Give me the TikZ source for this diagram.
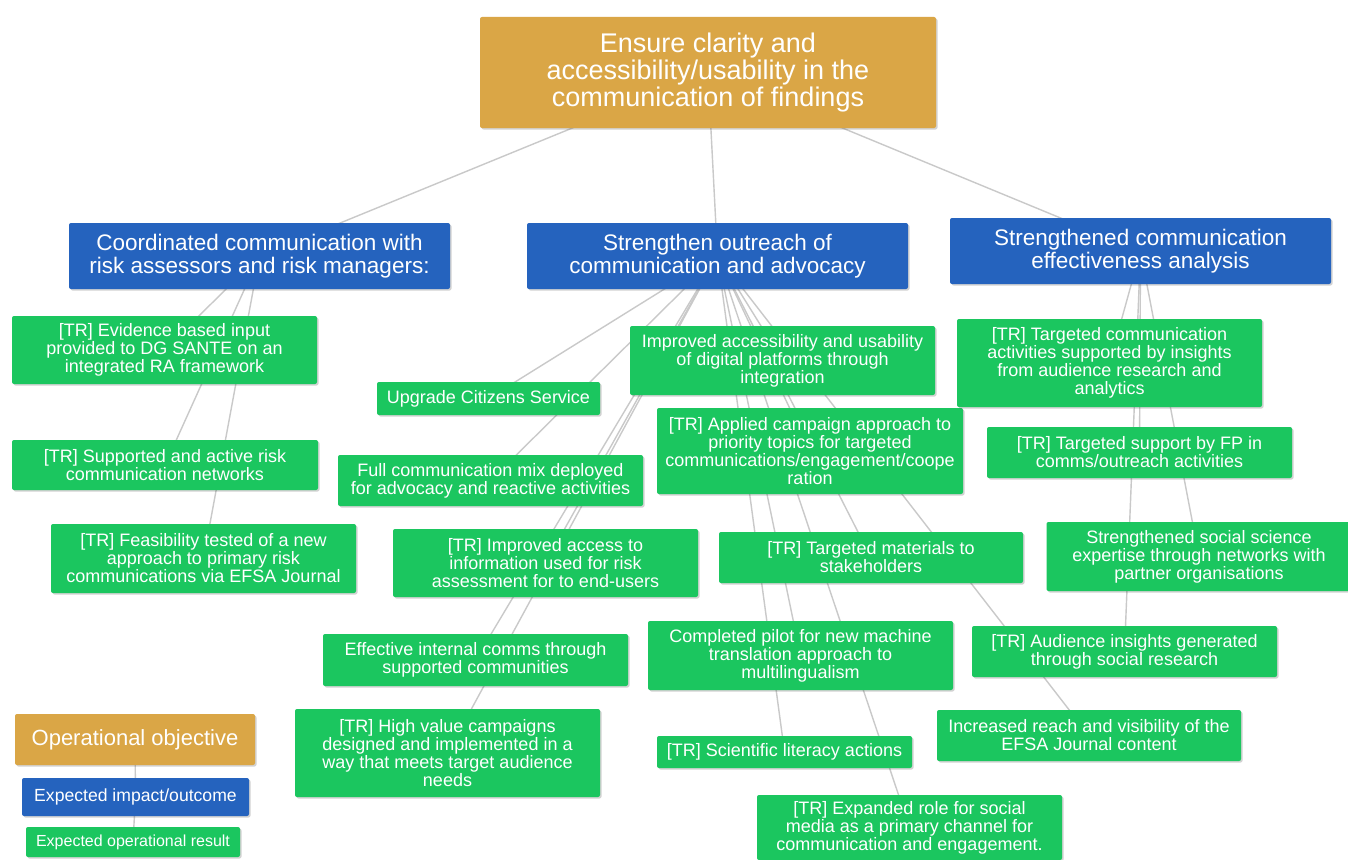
\documentclass[tikz,border=0pt]{standalone}
\usepackage{fontspec}
\setmainfont{Liberation Sans}
\usetikzlibrary{shadows,backgrounds}

\definecolor{objgold}{HTML}{DAA646}
\definecolor{impblue}{HTML}{2563BE}
\definecolor{resgreen}{HTML}{1BC65F}
\definecolor{linkgray}{HTML}{C9C9C9}

\tikzset{
  box/.style={rounded corners=2pt, text=white, align=center, inner sep=0pt,
    drop shadow={shadow xshift=1.5pt, shadow yshift=-1.5pt, opacity=0.25, fill=black!70}},
  sz/.style 2 args={minimum width=#1pt, minimum height=#2pt},
  objbox/.style={box, fill=objgold, font=\fontsize{27}{27}\selectfont},
  impbox/.style={box, fill=impblue, font=\fontsize{22.5}{23}\selectfont},
  resbox/.style={box, fill=resgreen, font=\fontsize{18}{18}\selectfont},
  link/.style={draw=linkgray, line width=1.4pt},
}

\begin{document}
\begin{tikzpicture}[x=1pt, y=-1pt]
\useasboundingbox (0,0) rectangle (1348,859);

% objective
\node[objbox, sz={456}{111}] (top) at (708,72.5)
  {Ensure clarity and\\accessibility/usability in the\\communication of findings};

% expected impacts
\node[impbox, sz={381}{66}] (b1) at (259.5,256)
  {Coordinated communication with\\risk assessors and risk managers:};
\node[impbox, sz={381}{66}] (b2) at (717.5,256)
  {Strengthen outreach of\\communication and advocacy};
\node[impbox, sz={381}{66}] (b3) at (1140.5,251)
  {Strengthened communication\\effectiveness analysis};

% results under b1
\node[resbox, sz={305}{68}] (g1) at (164.5,350)
  {[TR] Evidence based input\\provided to DG SANTE on an\\integrated RA framework};
\node[resbox, sz={306}{50}] (g2) at (165,465)
  {[TR] Supported and active risk\\communication networks};
\node[resbox, sz={305}{69}] (g3) at (203.5,558.5)
  {[TR] Feasibility tested of a new\\approach to primary risk\\communications via EFSA Journal};

% results under b2
\node[resbox, sz={223}{33}] (c1) at (488.5,398.5) {Upgrade Citizens Service};
\node[resbox, sz={305}{51}] (c2) at (490.5,480.5)
  {Full communication mix deployed\\for advocacy and reactive activities};
\node[resbox, sz={305}{69}] (c3) at (782.5,360.5)
  {Improved accessibility and usability\\of digital platforms through\\integration};
\node[resbox, sz={306}{86}] (c4) at (810,451)
  {[TR] Applied campaign approach to\\priority topics for targeted\\communications/engagement/coope\\ration};
\node[resbox, sz={305}{68}] (c5) at (545.5,563)
  {[TR] Improved access to\\information used for risk\\assessment for to end-users};
\node[resbox, sz={304}{51}] (c6) at (871,557.5)
  {[TR] Targeted materials to\\stakeholders};
\node[resbox, sz={305}{52}] (c7) at (475.5,660)
  {Effective internal comms through\\supported communities};
\node[resbox, sz={305}{69}] (c8) at (800.5,655.5)
  {Completed pilot for new machine\\translation approach to\\multilingualism};
\node[resbox, sz={305}{88}] (c9) at (447.5,753)
  {[TR] High value campaigns\\designed and implemented in a\\way that meets target audience\\needs};
\node[resbox, sz={255}{32}] (c10) at (784.5,752) {[TR] Scientific literacy actions};
\node[resbox, sz={305}{65}] (c11) at (909.5,827.5)
  {[TR] Expanded role for social\\media as a primary channel for\\communication and engagement.};
\node[resbox, sz={304}{51}] (c12) at (1089,735.5)
  {Increased reach and visibility of the\\EFSA Journal content};

% results under b3
\node[resbox, sz={305}{88}] (d1) at (1109.5,363)
  {[TR] Targeted communication\\activities supported by insights\\from audience research and\\analytics};
\node[resbox, sz={305}{51}] (d2) at (1139.5,452.5)
  {[TR] Targeted support by FP in\\comms/outreach activities};
\node[resbox, sz={305}{69}] (d3) at (1199,556.5)
  {Strengthened social science\\expertise through networks with\\partner organisations};
\node[resbox, sz={305}{51}] (d4) at (1124.5,651.5)
  {[TR] Audience insights generated\\through social research};

% legend
\node[box, fill=objgold, sz={240}{51}, font=\fontsize{22}{23}\selectfont] (lo) at (135,739.5)
  {Operational objective};
\node[box, fill=impblue, sz={227}{38}, font=\fontsize{17.6}{18}\selectfont] (li) at (135.5,797)
  {Expected impact/outcome};
\node[box, fill=resgreen, sz={214}{30}, font=\fontsize{16}{16}\selectfont] (lr) at (133,842)
  {Expected operational result};

% connectors, centre to centre beneath the boxes
\begin{scope}[on background layer]
  \fill[white] (0,0) rectangle (1348,859);
  \foreach \a/\b in {top/b1, top/b2, top/b3,
      b1/g1, b1/g2, b1/g3,
      b2/c1, b2/c2, b2/c3, b2/c4, b2/c5, b2/c6, b2/c7, b2/c8, b2/c9, b2/c10, b2/c11, b2/c12,
      b3/d1, b3/d2, b3/d3, b3/d4,
      lo/li, li/lr}
    \draw[link] (\a.center) -- (\b.center);
\end{scope}
\end{tikzpicture}
\end{document}
